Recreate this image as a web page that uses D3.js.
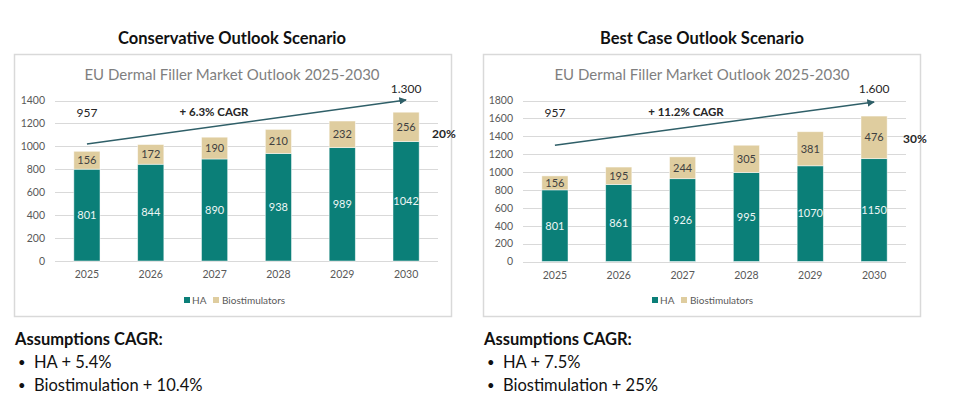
<!DOCTYPE html>
<html>
<head>
<meta charset="utf-8">
<script src="https://cdn.jsdelivr.net/npm/d3@7"></script>
<style>
  html, body { margin: 0; padding: 0; background: #ffffff; }
  svg { display: block; }
</style>
</head>
<body>
<svg id="chart" width="960" height="417"></svg>
<script>
// ---- Data ----
const years = ["2025", "2026", "2027", "2028", "2029", "2030"];
const consHA  = [801, 844, 890, 938, 989, 1042];
const consBio = [156, 172, 190, 210, 232, 256];
const bestHA  = [801, 861, 926, 995, 1070, 1150];
const bestBio = [156, 195, 244, 305, 381, 476];
const consTicks = [0, 200, 400, 600, 800, 1000, 1200, 1400];
const bestTicks = [0, 200, 400, 600, 800, 1000, 1200, 1400, 1600, 1800];
const panelTitles = ["Conservative Outlook Scenario", "Best Case Outlook Scenario"];
const chartTitle = "EU Dermal Filler Market Outlook 2025-2030";
const seriesNames = ["HA", "Biostimulators"];
const cagrLabels = ["+ 6.3% CAGR", "+ 11.2% CAGR"];
const startLabels = ["957", "957"];
const endLabels = ["1.300", "1.600"];
const shareLabels = ["20%", "30%"];
const arrowStart = [1020, 1300];   // value at 2025 where arrow begins
const arrowEnd   = [1405, 1782];   // value at 2030 where arrow ends
const assumptionsTitle = "Assumptions CAGR:";
const consAssumptions = ["HA + 5.4%", "Biostimulation + 10.4%"];
const bestAssumptions = ["HA + 7.5%", "Biostimulation + 25%"];

const colHA = "#0b7f78";
const colBio = "#dfcd9f";
const FONT = "Lato, 'Open Sans', sans-serif";

const svg = d3.select("#chart");
const defs = svg.append("defs");
defs.append("marker")
  .attr("id", "arrowhead")
  .attr("viewBox", "0 0 10 10")
  .attr("refX", 9).attr("refY", 5)
  .attr("markerWidth", 5).attr("markerHeight", 5)
  .attr("orient", "auto")
  .append("path").attr("d", "M0,0 L10,5 L0,10 z").attr("fill", "#2f5f68");

function drawPanel(cfg) {
  const g = svg.append("g").attr("transform", `translate(${cfg.ox},0)`);

  // panel title
  g.append("text").attr("x", cfg.cx).attr("y", 44)
    .attr("text-anchor", "middle")
    .attr("font-family", FONT).attr("font-weight", 700).attr("font-size", 16.5)
    .attr("fill", "#111").text(cfg.title);

  // chart box
  g.append("rect").attr("x", cfg.boxX + 0.5).attr("y", 54.5)
    .attr("width", 437).attr("height", 262)
    .attr("fill", "#fff").attr("stroke", "#d9d9d9").attr("stroke-width", 1.5);

  // chart title
  g.append("text").attr("x", cfg.cx).attr("y", 80)
    .attr("text-anchor", "middle")
    .attr("font-family", FONT).attr("font-size", 15)
    .attr("fill", "#7f7f7f").text(chartTitle);

  const x = d3.scaleBand().domain(years)
    .range([cfg.plotX0, cfg.plotX0 + 383])
    .paddingInner(0.59).paddingOuter(0.295);
  const y = d3.scaleLinear().domain([0, cfg.ymax]).range([cfg.y0, 100.5]);

  // gridlines
  g.append("g").selectAll("line").data(cfg.ticks).join("line")
    .attr("x1", cfg.plotX0).attr("x2", cfg.plotX0 + 383)
    .attr("y1", d => Math.round(y(d)) + 0.5).attr("y2", d => Math.round(y(d)) + 0.5)
    .attr("stroke", "#d9d9d9").attr("stroke-width", 1);

  // y axis labels
  const yAxis = d3.axisLeft(y).tickValues(cfg.ticks).tickFormat(d3.format("d")).tickSize(0).tickPadding(10);
  const ya = g.append("g").attr("transform", `translate(${cfg.plotX0},0)`).call(yAxis);
  ya.select(".domain").remove();
  ya.selectAll("text").attr("font-family", FONT).attr("font-size", 10.5).attr("fill", "#595959");

  // x axis labels
  const xAxis = d3.axisBottom(x).tickSize(0).tickPadding(10);
  const xa = g.append("g").attr("transform", `translate(0,${cfg.y0})`).call(xAxis);
  xa.select(".domain").remove();
  xa.selectAll("text").attr("font-family", FONT).attr("font-size", 10.5).attr("fill", "#595959");

  const rows = years.map((yr, i) => ({ year: yr, HA: cfg.ha[i], Bio: cfg.bio[i] }));
  const stack = d3.stack().keys(["HA", "Bio"])(rows);
  const colors = [colHA, colBio];

  stack.forEach((layer, li) => {
    g.append("g").selectAll("rect").data(layer).join("rect")
      .attr("x", d => x(d.data.year))
      .attr("y", d => y(d[1]))
      .attr("width", x.bandwidth())
      .attr("height", d => y(d[0]) - y(d[1]))
      .attr("fill", colors[li])
      .attr("stroke", "#ffffff").attr("stroke-opacity", 0.6).attr("stroke-width", 0.8);
    g.append("g").selectAll("text").data(layer).join("text")
      .attr("x", d => x(d.data.year) + x.bandwidth() / 2)
      .attr("y", d => (y(d[0]) + y(d[1])) / 2)
      .attr("dy", "0.35em")
      .attr("text-anchor", "middle")
      .attr("font-family", FONT).attr("font-size", 11)
      .attr("fill", li === 0 ? "#eef6f5" : "#404040")
      .text(d => d[1] - d[0]);
  });

  // arrow
  const xs = x(years[0]) + x.bandwidth() / 2;
  const xe = x(years[years.length - 1]) + x.bandwidth() / 2;
  g.append("line")
    .attr("x1", xs).attr("y1", y(cfg.arrow[0]))
    .attr("x2", xe).attr("y2", y(cfg.arrow[1]))
    .attr("stroke", "#2f5f68").attr("stroke-width", 1.5)
    .attr("marker-end", "url(#arrowhead)");

  // annotations
  g.append("text").attr("x", xs).attr("y", 117).attr("text-anchor", "middle")
    .attr("font-family", FONT).attr("font-size", 12).attr("fill", "#262626").text(cfg.startLabel);
  g.append("text").attr("x", cfg.cagrX).attr("y", 116).attr("text-anchor", "middle")
    .attr("font-family", FONT).attr("font-weight", 700).attr("font-size", 11.5).attr("fill", "#262626").text(cfg.cagr);
  g.append("text").attr("x", xe).attr("y", 93).attr("text-anchor", "middle")
    .attr("font-family", FONT).attr("font-size", 12).attr("fill", "#262626").text(cfg.endLabel);
  g.append("text").attr("x", cfg.shareX).attr("y", cfg.shareY).attr("text-anchor", "middle")
    .attr("font-family", FONT).attr("font-weight", 700).attr("font-size", 12).attr("fill", "#262626").text(cfg.share);

  // legend
  const lg = g.append("g").attr("transform", `translate(${cfg.legendX},300)`);
  lg.append("rect").attr("x", 0).attr("y", -3).attr("width", 6).attr("height", 6).attr("fill", colHA);
  lg.append("text").attr("x", 8).attr("y", 0).attr("dy", "0.35em")
    .attr("font-family", FONT).attr("font-size", 10).attr("fill", "#595959").text(seriesNames[0]);
  lg.append("rect").attr("x", 29).attr("y", -3).attr("width", 6).attr("height", 6).attr("fill", colBio);
  lg.append("text").attr("x", 38).attr("y", 0).attr("dy", "0.35em")
    .attr("font-family", FONT).attr("font-size", 10).attr("fill", "#595959").text(seriesNames[1]);

  // assumptions
  g.append("text").attr("x", cfg.boxX + 1).attr("y", 345)
    .attr("font-family", FONT).attr("font-weight", 700).attr("font-size", 16.5)
    .attr("fill", "#111").text(assumptionsTitle);
  cfg.assumptions.forEach((t, i) => {
    g.append("text").attr("x", cfg.boxX + 4).attr("y", 367 + i * 23)
      .attr("font-family", FONT).attr("font-size", 13).attr("fill", "#111").text("•");
    g.append("text").attr("x", cfg.boxX + 20).attr("y", 368 + i * 23)
      .attr("font-family", FONT).attr("font-size", 16.5).attr("fill", "#111").text(t);
  });
}

drawPanel({
  ox: 0, cx: 232, boxX: 14, plotX0: 55, y0: 261, ymax: 1400, ticks: consTicks,
  ha: consHA, bio: consBio, title: panelTitles[0], arrow: [arrowStart[0], arrowEnd[0]],
  startLabel: startLabels[0], cagr: cagrLabels[0], cagrX: 214, endLabel: endLabels[0],
  share: shareLabels[0], shareX: 444, shareY: 138, legendX: 184, assumptions: consAssumptions
});
drawPanel({
  ox: 470, cx: 232, boxX: 13, plotX0: 53, y0: 261.5, ymax: 1800, ticks: bestTicks,
  ha: bestHA, bio: bestBio, title: panelTitles[1], arrow: [arrowStart[1], arrowEnd[1]],
  startLabel: startLabels[1], cagr: cagrLabels[1], cagrX: 216, endLabel: endLabels[1],
  share: shareLabels[1], shareX: 445, shareY: 143, legendX: 182, assumptions: bestAssumptions
});
</script>
</body>
</html>
